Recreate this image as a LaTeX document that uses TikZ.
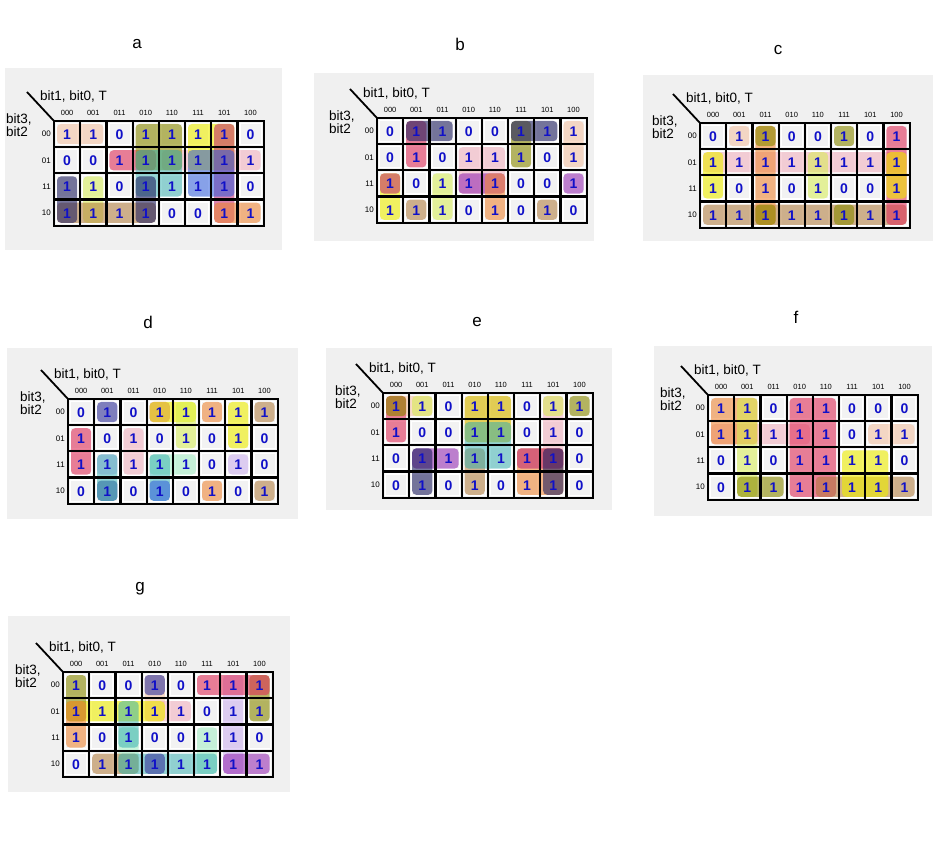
\documentclass[tikz,border=0pt]{standalone}
\usepackage{fontspec}
\setmainfont{Liberation Sans}
\definecolor{cpk}{HTML}{E0305A}
\definecolor{clpk}{HTML}{F2A8B8}
\definecolor{cpch}{HTML}{F5C0A0}
\definecolor{corg}{HTML}{F08838}
\definecolor{cyel}{HTML}{F0F000}
\definecolor{cylg}{HTML}{D8F050}
\definecolor{colv}{HTML}{8A8A00}
\definecolor{ctan}{HTML}{B07838}
\definecolor{cteal}{HTML}{30B0B0}
\definecolor{cnav}{HTML}{202060}
\definecolor{cblu}{HTML}{3060E0}
\definecolor{cpur}{HTML}{9020B0}
\definecolor{cmnt}{HTML}{A8F0C8}
\definecolor{clav}{HTML}{C8A8F0}
\definecolor{cmag}{HTML}{C02070}
\definecolor{cgold}{HTML}{D8B800}
\definecolor{cslate}{HTML}{4040A0}
\definecolor{cnum}{HTML}{1010C8}
\definecolor{cpanel}{HTML}{F0F0F0}
\definecolor{ccell}{HTML}{F2F2F2}
\def\cw{26.2}
\tikzset{
  panel/.style={fill=cpanel},
  cellfill/.style={fill=ccell},
  kline/.style={line width=2.2, line cap=rect},
  colh/.style={inner sep=0, font=\fontsize{7.5}{8}\selectfont},
  rowh/.style={inner sep=0, anchor=east, font=\fontsize{8}{9}\selectfont},
  lab/.style={inner sep=0, font=\fontsize{13.5}{13}\selectfont},
  val/.style={inner sep=0, text=cnum, font=\fontsize{14}{14}\selectfont\bfseries},
  ttl/.style={inner sep=0, font=\fontsize{17}{17}\selectfont},
  gpk/.style={fill=cpk, fill opacity=.6},
  glpk/.style={fill=clpk, fill opacity=.5},
  gpch/.style={fill=cpch, fill opacity=.55},
  gorg/.style={fill=corg, fill opacity=.6},
  gyel/.style={fill=cyel, fill opacity=.6},
  gylg/.style={fill=cylg, fill opacity=.55},
  golv/.style={fill=colv, fill opacity=.6},
  gtan/.style={fill=ctan, fill opacity=.55},
  gteal/.style={fill=cteal, fill opacity=.5},
  gnav/.style={fill=cnav, fill opacity=.6},
  gblu/.style={fill=cblu, fill opacity=.55},
  gpur/.style={fill=cpur, fill opacity=.55},
  gmnt/.style={fill=cmnt, fill opacity=.6},
  glav/.style={fill=clav, fill opacity=.5},
  gmag/.style={fill=cmag, fill opacity=.55},
  ggold/.style={fill=cgold, fill opacity=.65},
  gslate/.style={fill=cslate, fill opacity=.65},
}
\newcommand{\kcells}[1]{%
  \fill[cellfill] (0,0) rectangle ({8*\cw},{4*\cw});
  \foreach \c in {0,...,7}{\foreach \r in {0,...,3}{\draw[white,line width=1.2] ({\c*\cw+2.5},{\r*\cw+2.5}) rectangle ({(\c+1)*\cw-2.5},{(\r+1)*\cw-2.5});}}
  \foreach \h [count=\i from 0] in {000,001,011,010,110,111,101,100}{\node[colh] (#1-h\i) at ({(\i+0.5)*\cw},-8) {\h};}
  \foreach \h [count=\i from 0] in {00,01,11,10}{\node[rowh] (#1-v\i) at (-3,{(\i+0.5)*\cw}) {\h};}
  \node[lab,anchor=west] (#1-top) at (-14,-25) {bit1, bit0, T};
  \node[lab,anchor=west,align=left] (#1-left) at (-48,4.5) {bit3,\\bit2};
  \coordinate (#1-o) at (0,0);
  \coordinate (#1-d) at (-27,-29);
  \draw[line width=1.8] (#1-o) -- (#1-d);
}
\newcommand{\grp}[5]{\fill[#5, rounded corners=4] ({#1*\cw+3},{#2*\cw+3}) rectangle ({(#3+1)*\cw-3},{(#4+1)*\cw-3});}
\newcommand{\klines}{%
  \foreach \i in {0,...,8}{\draw[kline] ({\i*\cw},0) -- ({\i*\cw},{4*\cw});}
  \foreach \i in {0,...,4}{\draw[kline] (0,{\i*\cw}) -- ({8*\cw},{\i*\cw});}
}
\newcommand{\kvals}[2]{%
  \foreach \v [count=\k from 0] in {#2}{%
    \pgfmathtruncatemacro\cc{mod(\k,8)}%
    \pgfmathtruncatemacro\rr{div(\k,8)}%
    \node[val] (#1-\rr-\cc) at ({(\cc+0.5)*\cw},{(\rr+0.5)*\cw+0.5}) {\v};}
}
\begin{document}
\begin{tikzpicture}[x=1pt,y=-1pt]
\useasboundingbox[fill=white] (0,0) rectangle (938,866);
% panels
\fill[panel] (5,68) rectangle (282,250);
\fill[panel] (314,73) rectangle (594,241);
\fill[panel] (643,75) rectangle (933,241);
\fill[panel] (7,348) rectangle (298,519);
\fill[panel] (326,348) rectangle (612,510);
\fill[panel] (654,346) rectangle (932,516);
\fill[panel] (8,616) rectangle (290,792);
% titles
\node[ttl] (ta) at (137,44) {a};
\node[ttl] (tb) at (460,44) {b};
\node[ttl] (tc) at (778,50) {c};
\node[ttl] (td) at (148,322) {d};
\node[ttl] (te) at (477,322) {e};
\node[ttl] (tf) at (796,317) {f};
\node[ttl] (tg) at (140,589) {g};
% ---- a
\begin{scope}[shift={(54,121)}]
\kcells{a}
\grp{0}{0}{1}{0}{gpch}
\grp{4}{1}{7}{1}{glpk}
\grp{2}{1}{3}{1}{gpk}
\grp{3}{0}{4}{1}{golv}
\grp{5}{0}{6}{1}{gyel}
\grp{3}{1}{4}{2}{gteal}
\grp{6}{0}{6}{3}{gmag}
\grp{5}{1}{6}{2}{gblu}
\grp{1}{2}{1}{3}{gylg}
\grp{0}{3}{3}{3}{gtan}
\grp{0}{2}{0}{3}{gnav}
\grp{3}{2}{3}{3}{gnav}
\grp{6}{3}{7}{3}{gorg}
\klines
\kvals{a}{1,1,0,1,1,1,1,0, 0,0,1,1,1,1,1,1, 1,1,0,1,1,1,1,0, 1,1,1,1,0,0,1,1}
\end{scope}
% ---- b
\begin{scope}[shift={(377,118)}]
\kcells{b}
\grp{3}{1}{4}{2}{glpk}
\grp{7}{0}{7}{1}{gpch}
\grp{1}{0}{1}{1}{gpk}
\grp{1}{0}{2}{0}{gnav}
\grp{5}{0}{5}{1}{golv}
\grp{5}{0}{6}{0}{gnav}
\grp{3}{2}{4}{2}{gpur}
\grp{4}{2}{4}{3}{gorg}
\grp{0}{2}{0}{3}{gyel}
\grp{0}{2}{0}{2}{gmag}
\grp{1}{3}{1}{3}{gtan}
\grp{6}{3}{6}{3}{gtan}
\grp{2}{2}{2}{3}{gylg}
\grp{7}{2}{7}{2}{gpur}
\klines
\kvals{b}{0,1,1,0,0,1,1,1, 0,1,0,1,1,1,0,1, 1,0,1,1,1,0,0,1, 1,1,1,0,1,0,1,0}
\end{scope}
% ---- c
\begin{scope}[shift={(700,123)}]
\kcells{c}
\grp{0}{1}{7}{1}{glpk}
\grp{0}{3}{7}{3}{gtan}
\grp{1}{0}{1}{0}{gpch}
\grp{2}{0}{2}{3}{gorg}
\grp{2}{0}{2}{0}{golv}
\grp{2}{3}{2}{3}{golv}
\grp{5}{0}{5}{0}{golv}
\grp{5}{3}{5}{3}{golv}
\grp{7}{0}{7}{3}{gpk}
\grp{7}{1}{7}{2}{gyel}
\grp{0}{1}{0}{2}{gyel}
\grp{4}{1}{4}{2}{gylg}
\klines
\kvals{c}{0,1,1,0,0,1,0,1, 1,1,1,1,1,1,1,1, 1,0,1,0,1,0,0,1, 1,1,1,1,1,1,1,1}
\end{scope}
% ---- d
\begin{scope}[shift={(68,399)}]
\kcells{d}
\grp{1}{0}{1}{0}{gslate}
\grp{1}{3}{1}{3}{gslate}
\grp{3}{0}{3}{0}{gmag}
\grp{3}{0}{4}{0}{gyel}
\grp{4}{0}{4}{1}{gylg}
\grp{5}{0}{5}{0}{gorg}
\grp{5}{3}{5}{3}{gorg}
\grp{7}{0}{7}{0}{gtan}
\grp{7}{3}{7}{3}{gtan}
\grp{6}{0}{6}{1}{gyel}
\grp{0}{1}{0}{2}{gpk}
\grp{2}{1}{2}{2}{glpk}
\grp{1}{2}{1}{2}{glav}
\grp{1}{2}{1}{3}{gteal}
\grp{3}{2}{4}{2}{gmnt}
\grp{3}{2}{3}{3}{gteal}
\grp{3}{3}{3}{3}{gblu}
\grp{6}{2}{6}{2}{glav}
\klines
\kvals{d}{0,1,0,1,1,1,1,1, 1,0,1,0,1,0,1,0, 1,1,1,1,1,0,1,0, 0,1,0,1,0,1,0,1}
\end{scope}
% ---- e
\begin{scope}[shift={(383,393)}]
\kcells{e}
\grp{0}{0}{1}{0}{gpch}
\grp{6}{0}{6}{2}{glpk}
\grp{0}{0}{0}{1}{gpk}
\grp{0}{0}{0}{0}{golv}
\grp{7}{0}{7}{0}{golv}
\grp{1}{0}{1}{0}{gylg}
\grp{6}{0}{6}{0}{gylg}
\grp{3}{0}{4}{1}{ggold}
\grp{3}{2}{3}{3}{gtan}
\grp{3}{1}{4}{2}{gteal}
\grp{1}{2}{2}{2}{gpur}
\grp{1}{2}{1}{3}{gnav}
\grp{5}{2}{6}{3}{gorg}
\grp{5}{2}{6}{2}{gmag}
\grp{6}{2}{6}{3}{gnav}
\klines
\kvals{e}{1,1,0,1,1,0,1,1, 1,0,0,1,1,0,1,0, 0,1,1,1,1,1,1,0, 0,1,0,1,0,1,1,0}
\end{scope}
% ---- f
\begin{scope}[shift={(708,395)}]
\kcells{f}
\grp{0}{1}{3}{1}{glpk}
\grp{6}{1}{7}{1}{gpch}
\grp{0}{0}{1}{1}{gorg}
\grp{1}{0}{1}{3}{gylg}
\grp{3}{0}{4}{3}{gpk}
\grp{4}{3}{7}{3}{gtan}
\grp{5}{2}{6}{3}{gyel}
\grp{1}{3}{2}{3}{golv}
\klines
\kvals{f}{1,1,0,1,1,0,0,0, 1,1,1,1,1,0,1,1, 0,1,0,1,1,1,1,0, 0,1,1,1,1,1,1,1}
\end{scope}
% ---- g
\begin{scope}[shift={(63,672)}]
\kcells{g}
\grp{3}{0}{3}{1}{gpch}
\grp{3}{1}{4}{1}{glpk}
\grp{6}{0}{6}{3}{glav}
\grp{0}{1}{3}{1}{gyel}
\grp{0}{0}{0}{1}{golv}
\grp{7}{0}{7}{1}{golv}
\grp{3}{0}{3}{0}{gslate}
\grp{5}{0}{7}{0}{gpk}
\grp{0}{1}{0}{2}{gorg}
\grp{2}{2}{2}{3}{gmnt}
\grp{5}{2}{5}{3}{gmnt}
\grp{2}{1}{2}{2}{gteal}
\grp{1}{3}{2}{3}{gtan}
\grp{2}{3}{5}{3}{gteal}
\grp{3}{3}{3}{3}{gslate}
\grp{6}{3}{7}{3}{gpur}
\klines
\kvals{g}{1,0,0,1,0,1,1,1, 1,1,1,1,1,0,1,1, 1,0,1,0,0,1,1,0, 0,1,1,1,1,1,1,1}
\end{scope}
\end{tikzpicture}
\end{document}
